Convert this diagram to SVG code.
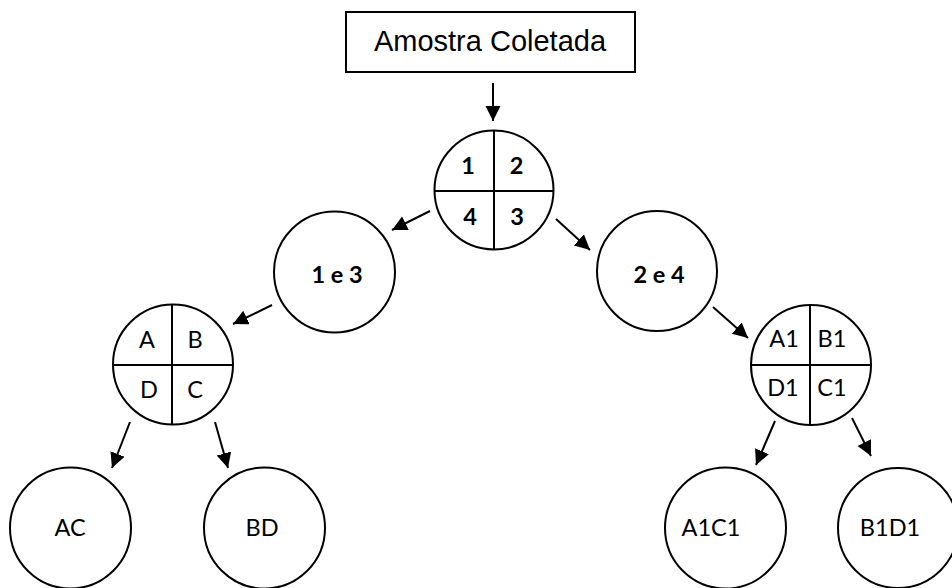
<svg xmlns="http://www.w3.org/2000/svg" width="952" height="588" viewBox="0 0 952 588">
<style>
.shape{fill:#fff;stroke:#000;stroke-width:2}
.div{stroke:#000;stroke-width:2}
.conn{stroke:#000;stroke-width:2;fill:none}
.t{font-family:Lato,"Open Sans",sans-serif;font-size:23.5px;fill:#000;text-anchor:middle}
.b{font-weight:bold}
.title{font-family:"Liberation Sans",Arial,sans-serif;font-size:29px;fill:#000;text-anchor:middle}
</style>
<defs>
<marker id="ah" markerUnits="userSpaceOnUse" markerWidth="16" markerHeight="16" refX="15" refY="7.5" orient="auto">
<path d="M0,0 L15,7.5 L0,15 z" fill="#000"/>
</marker>
</defs>
<g id="connectors">
<line class="conn" x1="493" y1="83" x2="493" y2="121" marker-end="url(#ah)"/>
<line class="conn" x1="430" y1="211" x2="392" y2="230" marker-end="url(#ah)"/>
<line class="conn" x1="556" y1="219" x2="590" y2="250" marker-end="url(#ah)"/>
<line class="conn" x1="272" y1="305" x2="233" y2="324" marker-end="url(#ah)"/>
<line class="conn" x1="713" y1="307" x2="748" y2="338" marker-end="url(#ah)"/>
<line class="conn" x1="130" y1="422" x2="112" y2="468" marker-end="url(#ah)"/>
<line class="conn" x1="215" y1="422" x2="228" y2="468" marker-end="url(#ah)"/>
<line class="conn" x1="775" y1="421" x2="756" y2="465" marker-end="url(#ah)"/>
<line class="conn" x1="852" y1="418" x2="871" y2="456" marker-end="url(#ah)"/>
</g>
<g id="amostra">
<rect class="shape" x="346" y="12" width="289" height="60"/>
<text class="title" x="490" y="51">Amostra Coletada</text>
</g>
<g id="q1234">
<circle class="shape" cx="494" cy="190" r="59.5"/>
<line class="div" x1="494" y1="130.5" x2="494" y2="249.5"/>
<line class="div" x1="434.5" y1="191" x2="553.5" y2="191"/>
<text class="t b" x="468" y="174">1</text>
<text class="t b" x="516.5" y="174">2</text>
<text class="t b" x="470" y="225">4</text>
<text class="t b" x="517" y="225">3</text>
</g>
<g id="n1e3">
<circle class="shape" cx="334.5" cy="272" r="60.5"/>
<text class="t b" x="337" y="283">1 e 3</text>
</g>
<g id="n2e4">
<circle class="shape" cx="657" cy="271" r="60"/>
<text class="t b" x="659" y="283">2 e 4</text>
</g>
<g id="qABCD">
<circle class="shape" cx="173" cy="364.5" r="60"/>
<line class="div" x1="172" y1="304.5" x2="172" y2="424.5"/>
<line class="div" x1="113" y1="365" x2="233" y2="365"/>
<text class="t" x="147" y="348">A</text>
<text class="t" x="195" y="348">B</text>
<text class="t" x="149" y="398">D</text>
<text class="t" x="195" y="398">C</text>
</g>
<g id="qA1B1">
<circle class="shape" cx="811" cy="365" r="60"/>
<line class="div" x1="810" y1="305" x2="810" y2="425"/>
<line class="div" x1="751" y1="365" x2="871" y2="365"/>
<text class="t" x="784" y="347">A1</text>
<text class="t" x="832" y="347">B1</text>
<text class="t" x="783" y="396">D1</text>
<text class="t" x="832" y="396">C1</text>
</g>
<g id="nAC">
<circle class="shape" cx="70.5" cy="528" r="60.5"/>
<text class="t" x="70" y="536">AC</text>
</g>
<g id="nBD">
<circle class="shape" cx="264.5" cy="528" r="60.5"/>
<text class="t" x="262" y="536">BD</text>
</g>
<g id="nA1C1">
<circle class="shape" cx="725.5" cy="528" r="60.5"/>
<text class="t" x="711" y="536">A1C1</text>
</g>
<g id="nB1D1">
<circle class="shape" cx="898" cy="528" r="60"/>
<text class="t" x="890" y="536">B1D1</text>
</g>
</svg>
